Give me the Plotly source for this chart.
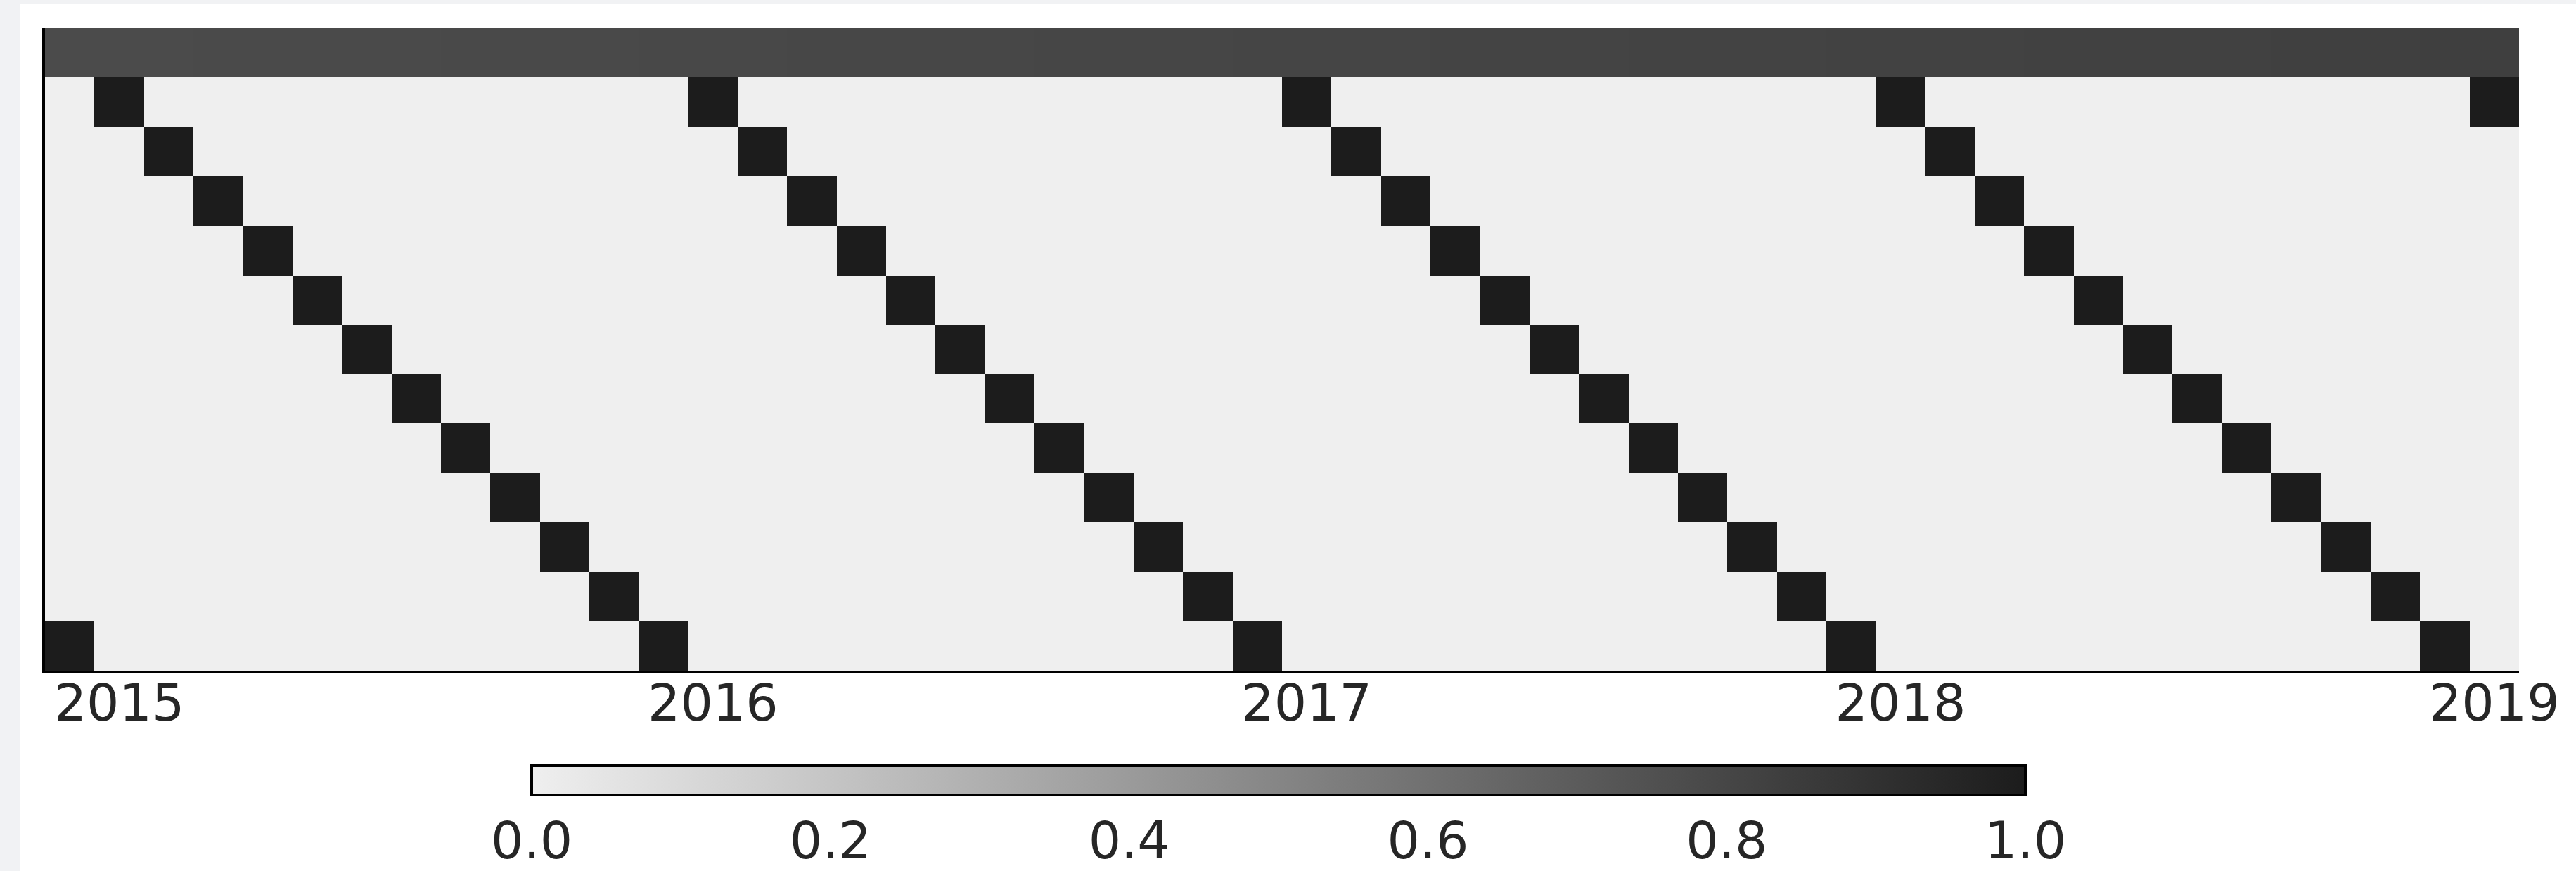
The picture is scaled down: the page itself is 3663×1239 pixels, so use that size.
import pandas as pd
import plotly.graph_objects as go

# Monthly columns (December 2014 through January 2019)
month_labels = [
    "2014-12",
    "2015-01", "2015-02", "2015-03", "2015-04", "2015-05", "2015-06",
    "2015-07", "2015-08", "2015-09", "2015-10", "2015-11", "2015-12",
    "2016-01", "2016-02", "2016-03", "2016-04", "2016-05", "2016-06",
    "2016-07", "2016-08", "2016-09", "2016-10", "2016-11", "2016-12",
    "2017-01", "2017-02", "2017-03", "2017-04", "2017-05", "2017-06",
    "2017-07", "2017-08", "2017-09", "2017-10", "2017-11", "2017-12",
    "2018-01", "2018-02", "2018-03", "2018-04", "2018-05", "2018-06",
    "2018-07", "2018-08", "2018-09", "2018-10", "2018-11", "2018-12",
    "2019-01",
]

# Feature rows: a scaled time trend followed by one indicator row per calendar month
row_names = ["trend", "Jan", "Feb", "Mar", "Apr", "May", "Jun",
             "Jul", "Aug", "Sep", "Oct", "Nov", "Dec"]

trend = [
    0.776, 0.777, 0.778, 0.780, 0.781, 0.782, 0.783, 0.784, 0.785, 0.787,
    0.788, 0.789, 0.790, 0.791, 0.792, 0.794, 0.795, 0.796, 0.797, 0.798,
    0.799, 0.801, 0.802, 0.803, 0.804, 0.805, 0.806, 0.808, 0.809, 0.810,
    0.811, 0.812, 0.813, 0.815, 0.816, 0.817, 0.818, 0.819, 0.820, 0.822,
    0.823, 0.824, 0.825, 0.826, 0.827, 0.829, 0.830, 0.831, 0.832, 0.834,
]

year_ticks = ["2015-01", "2016-01", "2017-01", "2018-01", "2019-01"]
year_text = ["2015", "2016", "2017", "2018", "2019"]
cbar_ticks = [0.0, 0.2, 0.4, 0.6, 0.8, 1.0]

# One-hot month indicators for each column
months = pd.to_datetime(month_labels).month
z = [trend]
for m in range(1, 13):
    z.append([1.0 if mm == m else 0.0 for mm in months])

FONT = "DejaVu Sans"
TEXT = "#262626"

fig = go.Figure(
    go.Heatmap(
        x=month_labels,
        y=row_names,
        z=z,
        zmin=0,
        zmax=1,
        colorscale=[[0, "#efefef"], [1, "#1c1c1c"]],
        xgap=0,
        ygap=0,
        colorbar=dict(
            orientation="h",
            lenmode="pixels",
            len=2124,
            thickness=42,
            x=0.4986,
            xanchor="center",
            y=-0.1475,
            yanchor="top",
            ypad=0,
            xpad=0,
            outlinewidth=4,
            outlinecolor="#000000",
            tickvals=cbar_ticks,
            tickformat=".1f",
            ticks="",
            tickfont=dict(family=FONT, size=73, color=TEXT),
        ),
        hoverongaps=False,
    )
)

# White card over a light page background
fig.add_shape(
    type="rect", xref="paper", yref="paper",
    x0=(28 - 64) / 3518, x1=1.2, y0=-0.5, y1=(954 - 5) / 914,
    fillcolor="#ffffff", line=dict(width=0), layer="below",
)

fig.update_layout(
    width=3663,
    height=1239,
    margin=dict(l=64, r=81, t=40, b=285),
    paper_bgcolor="#f1f2f4",
    plot_bgcolor="#ffffff",
    font=dict(family=FONT, size=73, color=TEXT),
    xaxis=dict(
        type="category",
        tickvals=year_ticks,
        ticktext=year_text,
        ticks="",
        ticklabelstandoff=-21,
        showline=True,
        linecolor="#000000",
        linewidth=4,
        showgrid=False,
        zeroline=False,
        tickfont=dict(family=FONT, size=73, color=TEXT),
    ),
    yaxis=dict(
        type="category",
        autorange="reversed",
        showticklabels=False,
        ticks="",
        showline=True,
        linecolor="#000000",
        linewidth=4,
        showgrid=False,
        zeroline=False,
    ),
)

fig.write_html("out.html")
